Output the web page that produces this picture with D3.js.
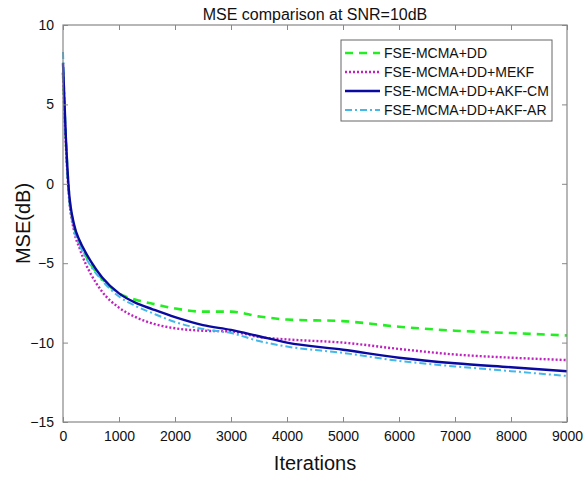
<!DOCTYPE html>
<html><head><meta charset="utf-8">
<script src="https://cdn.jsdelivr.net/npm/d3@7"></script>
<style>body{margin:0;background:#fff}svg{display:block}text{font-family:"Liberation Sans",Arial,sans-serif}</style>
</head><body>
<script>
const iterations = [0,50,100,200,300,400,500,700,1000,1300,1600,2000,2500,3000,3500,4000,5000,6000,7000,8000,9000];
const mseDD      = [7.0,2.8,-0.3,-2.7,-3.7,-4.5,-5.1,-6.0,-6.9,-7.3,-7.55,-7.85,-8.05,-8.05,-8.35,-8.55,-8.65,-9.0,-9.25,-9.4,-9.55];
const mseMEKF    = [7.0,2.5,-0.5,-3.0,-4.1,-5.0,-5.7,-6.8,-7.8,-8.4,-8.8,-9.1,-9.25,-9.3,-9.65,-9.8,-10.0,-10.4,-10.75,-10.95,-11.1];
const mseAKFCM   = [7.6,3.0,-0.2,-2.6,-3.6,-4.3,-4.9,-5.9,-6.9,-7.5,-7.9,-8.4,-8.9,-9.2,-9.6,-10.0,-10.45,-10.95,-11.3,-11.55,-11.8];
const mseAKFAR   = [8.3,3.0,-0.5,-2.9,-3.9,-4.6,-5.2,-6.1,-7.1,-7.7,-8.15,-8.7,-9.15,-9.4,-9.9,-10.25,-10.65,-11.15,-11.5,-11.8,-12.1];
const seriesNames = ["FSE-MCMA+DD","FSE-MCMA+DD+MEKF","FSE-MCMA+DD+AKF-CM","FSE-MCMA+DD+AKF-AR"];
const xTicks = [0,1000,2000,3000,4000,5000,6000,7000,8000,9000];
const yTicks = [10,5,0,-5,-10,-15];
const titleText = "MSE comparison at SNR=10dB";

const W=586,H=478;
const L=63,R=567,T=25,B=422;
const svg=d3.select("body").append("svg").attr("width",W).attr("height",H);
const x=d3.scaleLinear().domain([0,9000]).range([L,R]);
const y=d3.scaleLinear().domain([-15,10]).range([B,T]);

const styles=[
 {color:"#22ee22",width:2.6,dash:"8,6"},
 {color:"#c020c0",width:2.4,dash:"2,2"},
 {color:"#0a0aa0",width:2.4,dash:null},
 {color:"#44b8e8",width:2.0,dash:"7,3,2,3"}
];
const data=[mseDD,mseMEKF,mseAKFCM,mseAKFAR];

const line=d3.line().x((d,i)=>x(iterations[i])).y(d=>y(d)).curve(d3.curveMonotoneX);
const g=svg.append("g");
const order=[0,1,3,2];
order.forEach(k=>{
  g.append("path").datum(data[k]).attr("d",line).attr("fill","none")
   .attr("stroke",styles[k].color).attr("stroke-width",styles[k].width)
   .attr("stroke-dasharray",styles[k].dash);
});

// axes
const axCol="#888";
const ax=svg.append("g");
function styleAxis(sel){sel.selectAll(".domain").remove();sel.selectAll("line").attr("stroke",axCol);sel.selectAll("text").attr("fill","#111").style("font-size","14px").style("font-family","'Liberation Sans',Arial,sans-serif");}
ax.append("g").attr("transform",`translate(0,${B})`).call(d3.axisBottom(x).tickValues(xTicks).tickFormat(d3.format("d")).tickSizeInner(-5).tickSizeOuter(0).tickPadding(9)).call(styleAxis);
ax.append("g").attr("transform",`translate(0,${T})`).call(d3.axisTop(x).tickValues(xTicks).tickFormat("").tickSizeInner(-5).tickSizeOuter(0)).call(styleAxis);
ax.append("g").attr("transform",`translate(${L},0)`).call(d3.axisLeft(y).tickValues(yTicks).tickFormat(d3.format("d")).tickSizeInner(-5).tickSizeOuter(0).tickPadding(9)).call(styleAxis);
ax.append("g").attr("transform",`translate(${R},0)`).call(d3.axisRight(y).tickValues(yTicks).tickFormat("").tickSizeInner(-5).tickSizeOuter(0)).call(styleAxis);
svg.append("rect").attr("x",L).attr("y",T).attr("width",R-L).attr("height",B-T).attr("fill","none").attr("stroke",axCol).attr("stroke-width",1.2);

svg.append("text").attr("x",315).attr("y",20).attr("text-anchor","middle").style("font-size","16px").attr("fill","#111").text(titleText);
svg.append("text").attr("x",(L+R)/2).attr("y",470).attr("text-anchor","middle").style("font-size","20px").attr("fill","#111").text("Iterations");
svg.append("text").attr("transform",`translate(30,${(T+B)/2}) rotate(-90)`).attr("text-anchor","middle").style("font-size","20px").attr("fill","#111").text("MSE(dB)");

// legend
const lg=svg.append("g");
lg.append("rect").attr("x",341).attr("y",40).attr("width",211).attr("height",81).attr("fill","#fff").attr("stroke","#666").attr("stroke-width",1);
seriesNames.forEach((n,i)=>{
  const yy=53+i*19;
  lg.append("line").attr("x1",345).attr("x2",380).attr("y1",yy).attr("y2",yy)
    .attr("stroke",styles[i].color).attr("stroke-width",styles[i].width).attr("stroke-dasharray",styles[i].dash);
  lg.append("text").attr("x",384).attr("y",yy+5).style("font-size","14px").attr("fill","#111").text(n);
});
</script>
</body></html>
